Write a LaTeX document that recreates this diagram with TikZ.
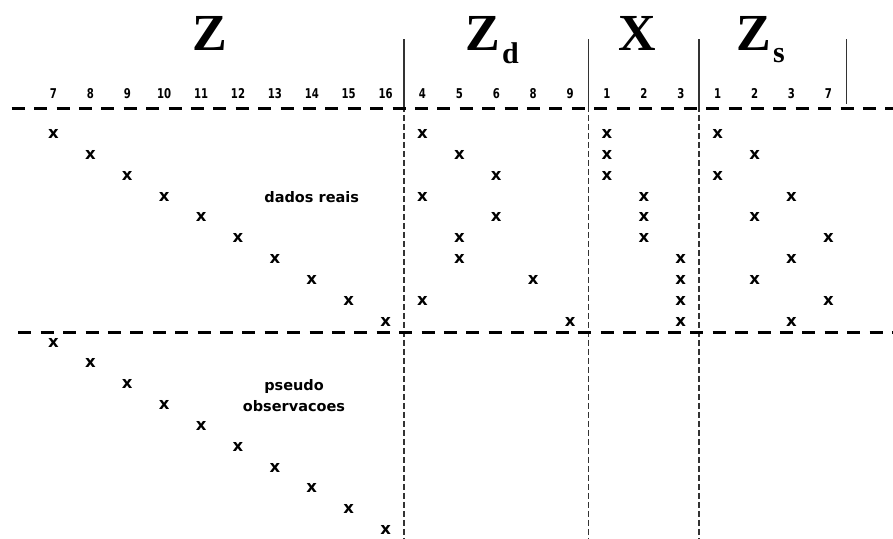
\documentclass[tikz,border=0pt]{standalone}
\usepackage{fontspec}
\setmainfont{Liberation Serif}
\newfontfamily\pixfont{DejaVu Sans}
\newfontfamily\numfont[FakeStretch=0.75]{DejaVu Sans}
\usepackage{tikz}
\usetikzlibrary{
  positioning,
  calc
}

\begin{document}
\begin{tikzpicture}[
  x=1pt, y=-1pt,
  title/.style={font=\fontsize{52}{52}\selectfont\bfseries, inner sep=0pt, anchor=base},
  sub/.style={font=\fontsize{30}{30}\selectfont\bfseries, inner sep=0pt, anchor=base west},
  colnum/.style={font=\numfont\fontsize{13.5}{14}\selectfont\bfseries, inner sep=0pt, anchor=base},
  xmark/.style={font=\pixfont\fontsize{16.5}{17}\selectfont\bfseries, inner sep=0pt},
  lbl/.style={font=\pixfont\fontsize{14.5}{21}\selectfont\bfseries, inner sep=0pt, align=center},
  sepline/.style={line width=3.5pt, dash pattern=on 13pt off 9.4pt},
  colline/.style={line width=1.3pt, black!80},
  coldash/.style={line width=1.2pt, black!80, dash pattern=on 6pt off 3pt}
]
\useasboundingbox (0,0) rectangle (893,538);

% block titles
\node[title] (tz) at (210,50) {Z};
\node[title] (tzd) at (483,50) {Z};
\node[sub] (tzdsub) at (502,63) {d};
\node[title] (tx) at (637,50) {X};
\node[title] (tzs) at (754,50) {Z};
\node[sub] (tzssub) at (773,62) {s};

% column numbers
\foreach \lab [count=\i from 0] in {7,8,9,10,11,12,13,14,15,16,4,5,6,8,9,1,2,3,1,2,3,7}
  \node[colnum] (c\i) at (53.5+36.9*\i,98) {\lab};

% block borders
\coordinate (b1top) at (404,39);
\coordinate (b1bot) at (404,538);
\coordinate (b2top) at (588.5,39);
\coordinate (b2bot) at (588.5,538);
\coordinate (b3top) at (699,39);
\coordinate (b3bot) at (699,538);
\coordinate (b4top) at (846.5,39);
\coordinate (b4bot) at (846.5,104);
\draw[colline] (b1top) -- ($(b1top)!0.134!(b1bot)$);
\draw[colline] (b2top) -- ($(b2top)!0.134!(b2bot)$);
\draw[colline] (b3top) -- ($(b3top)!0.134!(b3bot)$);
\draw[colline] (b4top) -- (b4bot);
\draw[coldash] ($(b1top)!0.134!(b1bot)$) -- (b1bot);
\draw[coldash] ($(b2top)!0.134!(b2bot)$) -- (b2bot);
\draw[coldash] ($(b3top)!0.134!(b3bot)$) -- (b3bot);

% separators
\coordinate (s1l) at (11.7,108.3);
\coordinate (s1r) at (893,108.3);
\coordinate (s2l) at (18.3,332.3);
\coordinate (s2r) at (893,332.3);
\draw[sepline] (s1l) -- (s1r);
\draw[sepline] (s2l) -- (s2r);

% marks: column index / row
\foreach \c/\r [count=\k] in {
  0/1,1/2,2/3,3/4,4/5,5/6,6/7,7/8,8/9,9/10,
  0/11,1/12,2/13,3/14,4/15,5/16,6/17,7/18,8/19,9/20,
  10/1,11/2,12/3,10/4,12/5,11/6,11/7,13/8,10/9,14/10,
  15/1,15/2,15/3,16/4,16/5,16/6,17/7,17/8,17/9,17/10,
  18/1,19/2,18/3,20/4,19/5,21/6,20/7,19/8,21/9,20/10}
  \node[xmark] (m\k) at (53.5+36.9*\c,134+20.85*\r-20.85) {x};

\node[lbl, anchor=base] (real) at (311.7,202.5) {dados reais};
\node[lbl] (pseudo) at (294,396) {pseudo\\observacoes};

\end{tikzpicture}
\end{document}
